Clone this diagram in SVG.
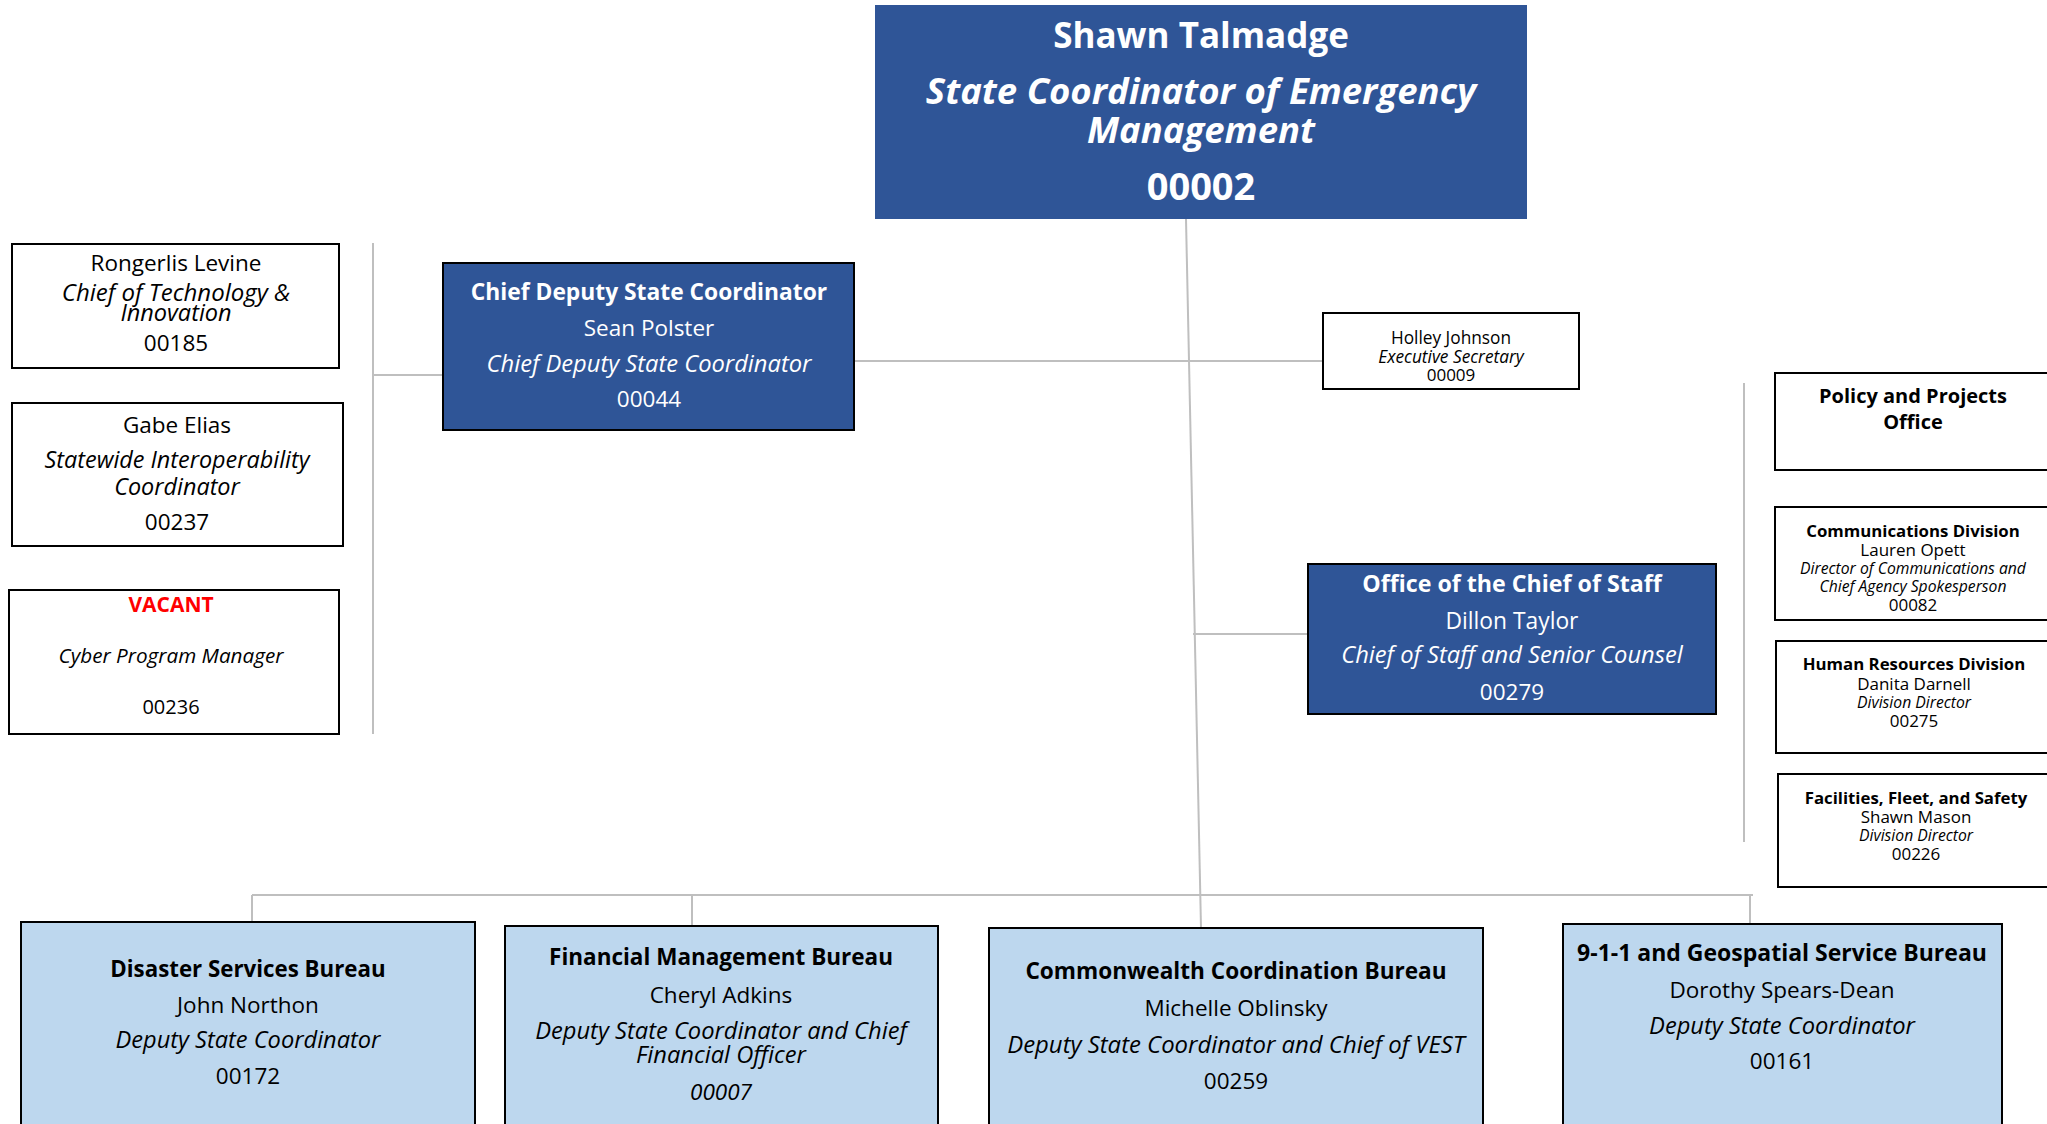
<svg xmlns="http://www.w3.org/2000/svg" width="2047" height="1124" viewBox="0 0 2047 1124">
<style>
text{font-family:"Open Sans","Noto Sans",sans-serif;text-anchor:middle;}
.w{fill:#ffffff}
.k{fill:#000000}
.b{font-weight:bold}
.i{font-style:italic}
.dark{fill:#2F5597;stroke:#000;stroke-width:2}
.top{fill:#2F5597}
.white{fill:#fff;stroke:#000;stroke-width:2}
.light{fill:#BDD7EE;stroke:#000;stroke-width:2}
.con line{stroke:#BFBFBF;stroke-width:2}
.m{font-size:22.5px}
.mi{font-size:23.7px;font-style:italic}
.mb{font-size:22.8px;font-weight:bold}
.s{font-size:17px}
.si{font-size:15.7px;font-style:italic}
.sb{font-size:16.8px;font-weight:bold}
</style>
<rect width="2047" height="1124" fill="#fff"/>
<g class="con">
<line x1="1186" y1="219" x2="1201" y2="928"/>
<line x1="854" y1="361" x2="1323" y2="361"/>
<line x1="373" y1="243" x2="373" y2="734"/>
<line x1="373" y1="375" x2="443" y2="375"/>
<line x1="1193" y1="634" x2="1308" y2="634"/>
<line x1="1744" y1="383" x2="1744" y2="842"/>
<line x1="252" y1="895" x2="1753" y2="895"/>
<line x1="252" y1="895" x2="252" y2="922"/>
<line x1="692" y1="895" x2="692" y2="926"/>
<line x1="1750" y1="895" x2="1750" y2="924"/>
</g>
<g id="n-talmadge">
<rect class="top" x="875" y="5" width="652" height="214"/>
<text class="w b" x="1201" y="48" font-size="35">Shawn Talmadge</text>
<text class="w b i" x="1201" y="104" font-size="36.5">State Coordinator of Emergency</text>
<text class="w b i" x="1201" y="143" font-size="36.5">Management</text>
<text class="w b" x="1201" y="200" font-size="38">00002</text>
</g>
<g id="n-polster">
<rect class="dark" x="443" y="263" width="411" height="167"/>
<text class="w mb" x="649" y="300" font-size="23">Chief Deputy State Coordinator</text>
<text class="w m" x="649" y="336">Sean Polster</text>
<text class="w mi" x="649" y="372">Chief Deputy State Coordinator</text>
<text class="w m" x="649" y="407">00044</text>
</g>
<g id="n-levine">
<rect class="white" x="12" y="244" width="327" height="124"/>
<text class="k m" x="176" y="271">Rongerlis Levine</text>
<text class="k mi" x="176" y="301" style="font-size:24px">Chief of Technology &amp;</text>
<text class="k mi" x="176" y="321" style="font-size:23.5px">Innovation</text>
<text class="k m" x="176" y="351">00185</text>
</g>
<g id="n-elias">
<rect class="white" x="12" y="403" width="331" height="143"/>
<text class="k m" x="177" y="433">Gabe Elias</text>
<text class="k mi" x="177" y="468" style="font-size:23.4px">Statewide Interoperability</text>
<text class="k mi" x="177" y="495" style="font-size:23.4px">Coordinator</text>
<text class="k m" x="177" y="530">00237</text>
</g>
<g id="n-vacant">
<rect class="white" x="9" y="590" width="330" height="144"/>
<text class="b" x="171" y="612" font-size="21" fill="#FF0000">VACANT</text>
<text class="k i" x="171" y="663" font-size="20.7">Cyber Program Manager</text>
<text class="k" x="171" y="714" font-size="20">00236</text>
</g>
<g id="n-johnson">
<rect class="white" x="1323" y="313" width="256" height="76"/>
<text class="k" x="1451" y="344" font-size="17.3">Holley Johnson</text>
<text class="k i" x="1451" y="363" font-size="17.3">Executive Secretary</text>
<text class="k" x="1451" y="381" font-size="17">00009</text>
</g>
<g id="n-taylor">
<rect class="dark" x="1308" y="564" width="408" height="150"/>
<text class="w mb" x="1512" y="592" style="font-size:23.2px">Office of the Chief of Staff</text>
<text class="w m" x="1512" y="629" style="font-size:22.8px">Dillon Taylor</text>
<text class="w mi" x="1512" y="663">Chief of Staff and Senior Counsel</text>
<text class="w m" x="1512" y="700">00279</text>
</g>
<g id="n-policy">
<rect class="white" x="1775" y="373" width="290" height="97"/>
<text class="k b" x="1913" y="403" font-size="20">Policy and Projects</text>
<text class="k b" x="1913" y="429" font-size="20">Office</text>
</g>
<g id="n-comms">
<rect class="white" x="1775" y="507" width="290" height="113"/>
<text class="k sb" x="1913" y="537">Communications Division</text>
<text class="k s" x="1913" y="556">Lauren Opett</text>
<text class="k si" x="1913" y="574">Director of Communications and</text>
<text class="k si" x="1913" y="592">Chief Agency Spokesperson</text>
<text class="k s" x="1913" y="611">00082</text>
</g>
<g id="n-hr">
<rect class="white" x="1776" y="641" width="290" height="112"/>
<text class="k sb" x="1914" y="670">Human Resources Division</text>
<text class="k s" x="1914" y="690">Danita Darnell</text>
<text class="k si" x="1914" y="708">Division Director</text>
<text class="k s" x="1914" y="727">00275</text>
</g>
<g id="n-facilities">
<rect class="white" x="1778" y="774" width="290" height="113"/>
<text class="k sb" x="1916" y="804">Facilities, Fleet, and Safety</text>
<text class="k s" x="1916" y="823">Shawn Mason</text>
<text class="k si" x="1916" y="841">Division Director</text>
<text class="k s" x="1916" y="860">00226</text>
</g>
<g id="n-disaster">
<rect class="light" x="21" y="922" width="454" height="220"/>
<text class="k mb" x="248" y="977" style="font-size:22.3px">Disaster Services Bureau</text>
<text class="k m" x="248" y="1013">John Northon</text>
<text class="k mi" x="248" y="1048" style="font-size:23.6px">Deputy State Coordinator</text>
<text class="k m" x="248" y="1084">00172</text>
</g>
<g id="n-financial">
<rect class="light" x="505" y="926" width="433" height="220"/>
<text class="k mb" x="721" y="965" style="font-size:22.5px">Financial Management Bureau</text>
<text class="k m" x="721" y="1003">Cheryl Adkins</text>
<text class="k mi" x="721" y="1039">Deputy State Coordinator and Chief</text>
<text class="k mi" x="721" y="1063">Financial Officer</text>
<text class="k mi" x="721" y="1100" style="font-size:22.5px">00007</text>
</g>
<g id="n-commonwealth">
<rect class="light" x="989" y="928" width="494" height="220"/>
<text class="k mb" x="1236" y="979" style="font-size:22.6px">Commonwealth Coordination Bureau</text>
<text class="k m" x="1236" y="1016">Michelle Oblinsky</text>
<text class="k mi" x="1236" y="1053" style="font-size:23.9px">Deputy State Coordinator and Chief of VEST</text>
<text class="k m" x="1236" y="1089">00259</text>
</g>
<g id="n-911">
<rect class="light" x="1563" y="924" width="439" height="220"/>
<text class="k mb" x="1782" y="961" style="font-size:23px">9-1-1 and Geospatial Service Bureau</text>
<text class="k m" x="1782" y="998">Dorothy Spears-Dean</text>
<text class="k mi" x="1782" y="1034">Deputy State Coordinator</text>
<text class="k m" x="1782" y="1069">00161</text>
</g>
</svg>
